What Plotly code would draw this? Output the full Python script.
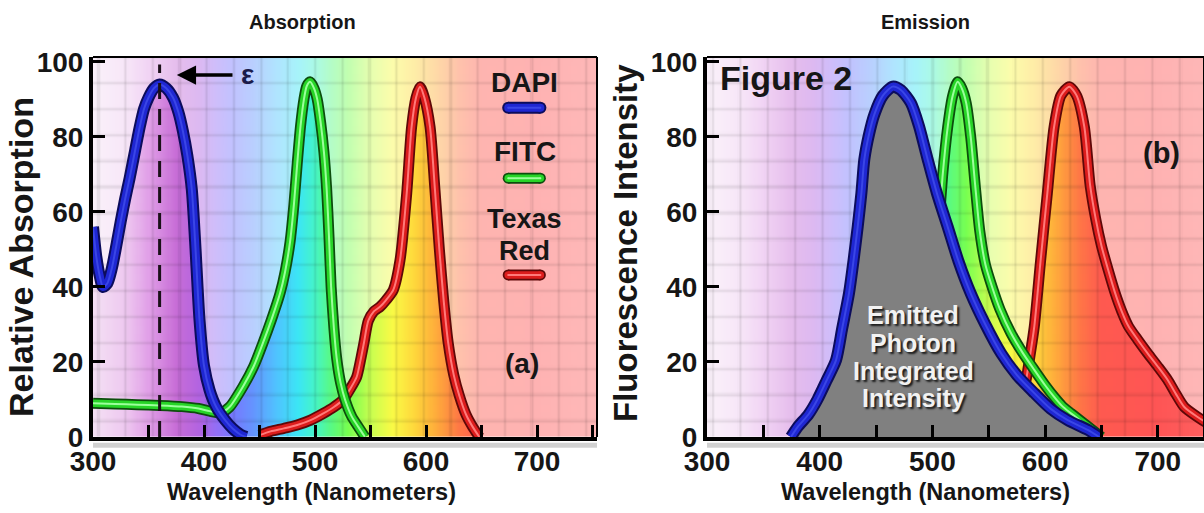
import numpy as np
import plotly.graph_objects as go

# ---------------- data ----------------
# Absorption spectra (relative absorption, %)
abs_dapi_nm = [300, 303, 306, 309, 313, 317, 321, 325, 329, 333, 338, 342, 346, 350, 355, 360, 366, 372, 377,
               381, 385, 389, 392, 396, 400, 405, 411, 419, 426, 433, 438]
abs_dapi = [56, 48, 43, 40, 41, 45, 51, 57.5, 63.5, 69, 76.5, 82.5, 87.5, 90.5, 93, 94, 93, 90.5, 86.5,
            81.5, 75, 66, 52, 31, 19, 12.5, 8, 4.5, 2.2, 0.6, 0]

abs_fitc_nm = [300, 320, 340, 360, 380, 395, 405, 415, 423, 435, 445, 453, 461, 468.5, 473, 477.5, 481, 484,
               487, 490, 492.5, 495.5, 499, 502, 505, 508, 510.5, 512.5, 514.5, 517, 519.5, 523, 527, 533, 539, 545]
abs_fitc = [9, 8.8, 8.6, 8.4, 8.1, 7.6, 6.9, 6.5, 8, 13.4, 19, 25, 31.5, 38.3, 44, 52, 62, 73,
            83, 90, 93.5, 94.7, 93, 90, 84, 76, 66, 54, 40, 29, 21, 14.5, 10, 5.5, 2.7, 0]

abs_texas_nm = [450, 460, 472, 484, 496, 507.5, 517, 525.5, 532, 537.5, 541, 544, 548, 553, 558.5, 564,
                570.5, 576.6, 582.6, 587, 591, 594.6, 598.5, 603.6, 608, 612, 616, 620, 625, 630, 636, 642, 648]
abs_texas = [0.5, 1.5, 2.3, 3.2, 4.5, 6.3, 8, 10, 13, 16, 20.5, 25, 31, 33.5, 34.7, 36.5,
             39.2, 47.2, 65, 82.7, 90.5, 93.4, 90.5, 82.7, 66, 50, 36, 25, 16.5, 11, 6, 2.7, 0]

# Emission spectra (fluorescence intensity, %)
em_dapi_nm = [374.5, 380.5, 390, 398, 406, 414.5, 420, 426, 430, 433.7, 437, 439.6, 444, 448.5, 456, 464.8,
              472, 481, 488, 495.8, 504, 513.6, 523, 534, 547, 561, 575, 590.4, 605, 620, 637.8, 648]
em_dapi = [0, 2.7, 6, 10, 15, 20.5, 29, 38.3, 47, 56, 65, 74, 81, 86, 91, 93.4,
           92.5, 89, 83, 74, 65, 56, 47, 38.3, 30, 22.3, 16.5, 11.7, 7.5, 4.5, 1.9, 0]

em_fitc_nm = [480, 490, 497, 503, 509, 513.6, 518, 522.4, 526, 530, 534, 538, 542, 547, 553, 560,
              569.7, 580, 590.4, 600, 608, 615, 623, 635, 650]
em_fitc = [0, 8, 22, 45, 69.4, 82.7, 91, 94.7, 93, 89, 80, 67, 55, 46, 40, 34,
           27.7, 22.5, 17.9, 13.8, 10.7, 8.3, 6.3, 3.5, 0]

em_texas_nm = [560, 570, 578, 583, 586, 590.4, 596, 602, 608, 614, 621.5, 628, 634.8, 640, 645, 650, 656,
               662, 668, 674, 682, 691, 700, 708.8, 716, 723.5, 735, 745, 755]
em_texas = [0, 3, 9, 15, 20.5, 29.4, 47, 65, 82.7, 91, 93.4, 91, 82.7, 67, 58, 51, 44.5,
            38.5, 33.5, 29.5, 26, 22.3, 18.8, 15.2, 11.5, 8, 5.4, 3.5, 2]

dye_names = ["DAPI", "FITC", "Texas Red"]
x_tickvals = [300, 350, 400, 450, 500, 550, 600, 650, 700, 750]
x_ticktext = ["300", "", "400", "", "500", "", "600", "", "700", ""]
y_tickvals = [0, 20, 40, 60, 80, 100]
y_ticktext = ["0", "20", "40", "60", "80", "100"]
epsilon_nm = 360  # DAPI absorption maximum marked with the dashed line

# ---------------- styling ----------------
FONT = "Liberation Sans, Arial, Helvetica, sans-serif"
TXT = "#161616"
X1_RANGE = [300, 754]
X2_RANGE = [300, 741]
Y_RANGE = [0, 101.3]

# visible-spectrum background colours (saturated)
spec_nm = [300, 330, 350, 375, 395, 410, 425, 445, 465, 485, 500, 515, 530, 550, 570, 590, 610, 630, 650, 700, 760]
spec_r = [245, 238, 225, 200, 180, 150, 120, 100, 80, 60, 70, 90, 120, 200, 250, 255, 255, 255, 255, 255, 255]
spec_g = [225, 200, 160, 110, 100, 110, 120, 150, 195, 230, 245, 250, 255, 255, 250, 215, 170, 120, 90, 85, 100]
spec_b = [245, 240, 232, 215, 225, 245, 255, 255, 255, 245, 200, 130, 80, 80, 70, 60, 60, 70, 80, 85, 100]

DYE_STYLE = {
    "DAPI": (["#0c0c5c", "#1f27d2", "#3a46e6"], [12, 8, 2]),
    "FITC": (["#0d4d0d", "#27d427", "#9cff9c"], [11, 7.5, 2]),
    "Texas Red": (["#5e0808", "#dc1c1c", "#ff7a7a"], [11, 7.5, 2]),
}


def spectrum(nm):
    return np.stack([np.interp(nm, spec_nm, spec_r),
                     np.interp(nm, spec_nm, spec_g),
                     np.interp(nm, spec_nm, spec_b)], axis=-1)


def grid_factor(xs, ys, px_per_nm, px_per_unit):
    gsx, gx0 = 24.4, 305.0
    gsy, gy0 = 6.93, 101.3
    dxp = np.abs(((xs - gx0 + gsx / 2) % gsx) - gsx / 2) * px_per_nm
    dyp = np.abs(((ys - gy0 + gsy / 2) % gsy) - gsy / 2) * px_per_unit
    fx = 1 - 0.085 * np.exp(-(dxp / 1.5) ** 2)
    fy = 1 - 0.085 * np.exp(-(dyp / 1.5) ** 2)
    return fy[:, None] * fx[None, :]


def curve_env(xs, nm_list, v_list):
    return np.interp(xs, nm_list, v_list, left=0, right=0)


DX, DY = 1.0, 0.3


def background(xr, curves, px_per_nm):
    xs = np.arange(xr[0], xr[1], DX) + DX / 2
    ys = np.arange(0, Y_RANGE[1], DY) + DY / 2
    env = np.zeros_like(xs)
    for nm_l, v_l in curves:
        env = np.maximum(env, curve_env(xs, nm_l, v_l))
    sat = spectrum(xs)
    pale = 255 * 0.55 + 0.45 * sat
    inside = ys[:, None] < env[None, :]
    img = np.where(inside[..., None], sat[None, :, :], pale[None, :, :])
    img = img * grid_factor(xs, ys, px_per_nm, 3.75)[..., None]
    z = np.clip(img, 0, 255).astype(np.uint8).tolist()
    return go.Image(z=z, x0=xs[0], dx=DX, y0=ys[0], dy=DY, zsmooth="fast", hoverinfo="skip")


def overlay(xr, nm_l, v_l, px_per_nm):
    xs = np.arange(xr[0], xr[1], DX) + DX / 2
    ys = np.arange(0, 97, DY) + DY / 2
    env = curve_env(xs, nm_l, v_l)
    sat = spectrum(xs)
    inside = ys[:, None] < env[None, :]
    rgb = np.broadcast_to(sat[None, :, :], (len(ys), len(xs), 3)) * grid_factor(xs, ys, px_per_nm, 3.75)[..., None]
    rgb = np.clip(rgb, 0, 255).round()
    alpha = inside.astype(float)[..., None]
    z = np.concatenate([rgb, alpha], axis=-1).tolist()
    return go.Image(z=z, x0=xs[0], dx=DX, y0=ys[0], dy=DY, colormodel="rgba", zsmooth="fast", hoverinfo="skip")


def curve_traces(x, y, name, xa, ya):
    cols, wids = DYE_STYLE[name]
    out = []
    for c, w in zip(cols, wids):
        out.append(go.Scatter(x=x, y=y, mode="lines", xaxis=xa, yaxis=ya,
                              line=dict(color=c, width=w, shape="spline", smoothing=0.7),
                              hoverinfo="skip", showlegend=False))
    return out


fig = go.Figure()

# ---------- (a) Absorption ----------
px1 = 504 / (X1_RANGE[1] - X1_RANGE[0])
bg1 = background(X1_RANGE, [(abs_dapi_nm, abs_dapi), (abs_fitc_nm, abs_fitc), (abs_texas_nm, abs_texas)], px1)
bg1.update(xaxis="x", yaxis="y")
fig.add_trace(bg1)
for t in curve_traces(abs_texas_nm, abs_texas, "Texas Red", "x", "y"):
    fig.add_trace(t)
for t in curve_traces(abs_fitc_nm, abs_fitc, "FITC", "x", "y"):
    fig.add_trace(t)
for t in curve_traces(abs_dapi_nm, abs_dapi, "DAPI", "x", "y"):
    fig.add_trace(t)
fig.add_trace(go.Scatter(x=[epsilon_nm, epsilon_nm], y=[0, 99.3], mode="lines", xaxis="x", yaxis="y",
                         line=dict(color="#1a1018", width=3, dash="16px,10px"), hoverinfo="skip", showlegend=False))

# legend swatches
leg_x = [674, 703]
leg_y = [87.8, 69.0, 43.2]
for name, ly in zip(dye_names, leg_y):
    cols, wids = DYE_STYLE[name]
    for c, w in zip(cols, wids):
        fig.add_trace(go.Scatter(x=leg_x, y=[ly, ly], mode="lines+markers", xaxis="x", yaxis="y",
                                 line=dict(color=c, width=w),
                                 marker=dict(color=c, size=w, line=dict(width=0)),
                                 hoverinfo="skip", showlegend=False))

# ---------- (b) Emission ----------
px2 = 497 / (X2_RANGE[1] - X2_RANGE[0])
bg2 = background(X2_RANGE, [(em_texas_nm, em_texas)], px2)
bg2.update(xaxis="x2", yaxis="y2")
fig.add_trace(bg2)
for t in curve_traces(em_texas_nm, em_texas, "Texas Red", "x2", "y2"):
    fig.add_trace(t)
ov = overlay([476, 656], em_fitc_nm, em_fitc, px2)
ov.update(xaxis="x2", yaxis="y2")
fig.add_trace(ov)
for t in curve_traces(em_fitc_nm, em_fitc, "FITC", "x2", "y2"):
    fig.add_trace(t)
fig.add_trace(go.Scatter(x=em_dapi_nm, y=em_dapi, mode="lines", xaxis="x2", yaxis="y2", fill="tozeroy",
                         fillcolor="#808080", line=dict(color="rgba(0,0,0,0)", width=0, shape="spline", smoothing=0.7),
                         hoverinfo="skip", showlegend=False))
for t in curve_traces(em_dapi_nm, em_dapi, "DAPI", "x2", "y2"):
    fig.add_trace(t)

# ---------- axes ----------
tick_font = dict(family=FONT, size=28, color=TXT, weight=700)


def xaxis(rng, domain, anchor):
    return dict(domain=domain, anchor=anchor, range=rng, autorange=False, tickmode="array",
                tickvals=x_tickvals, ticktext=x_ticktext, ticks="inside", ticklen=12, tickwidth=3,
                tickcolor="black", showline=True, linewidth=4, linecolor="black", showgrid=False,
                zeroline=False, tickfont=tick_font, fixedrange=True, automargin=False,
                ticklabelstandoff=-4)


def yaxis(domain, anchor):
    return dict(domain=domain, anchor=anchor, range=Y_RANGE, autorange=False, tickmode="array",
                tickvals=y_tickvals, ticktext=y_ticktext, ticks="inside", ticklen=12, tickwidth=3,
                tickcolor="black", showline=True, linewidth=4, linecolor="black", showgrid=False,
                zeroline=False, tickfont=tick_font, fixedrange=True, scaleanchor=False, automargin=False)


ydom = [1 - 437 / 513, 1 - 57 / 513]
fig.update_layout(
    width=1204, height=513, margin=dict(l=0, r=0, t=0, b=0, autoexpand=False),
    paper_bgcolor="white", plot_bgcolor="white", showlegend=False, hovermode=False,
    xaxis=xaxis(X1_RANGE, [93 / 1204, 597 / 1204], "y"),
    yaxis=yaxis(ydom, "x"),
    xaxis2=xaxis(X2_RANGE, [707 / 1204, 1.0], "y2"),
    yaxis2=yaxis(ydom, "x2"),
)

# borders and axis shadow
shapes = []
for xr, yr in (("x domain", "y domain"), ("x2 domain", "y2 domain")):
    shapes.append(dict(type="line", xref=xr, yref=yr, x0=0, x1=1, y0=1, y1=1, line=dict(color="black", width=2)))
    shapes.append(dict(type="line", xref=xr, yref=yr, x0=1, x1=1, y0=0, y1=1, line=dict(color="black", width=2)))
    shapes.append(dict(type="line", xref=xr, yref=yr, x0=0, x1=1, y0=-0.022, y1=-0.022,
                       line=dict(color="rgba(0,0,0,0.18)", width=5)))
fig.update_layout(shapes=shapes)

ann = []


def A(text, x, y, size, xref="paper", yref="paper", color=TXT, bold=True, **kw):
    d = dict(text=("<b>%s</b>" % text) if bold else text, x=x, y=y, xref=xref, yref=yref, showarrow=False,
             xanchor="center", yanchor="middle", font=dict(family=FONT, size=size, color=color))
    d.update(kw)
    ann.append(d)


A("Absorption", 302 / 1204, 1 - 22 / 513, 20)
A("Emission", 925 / 1204, 1 - 22 / 513, 20)
A("Wavelength (Nanometers)", 311 / 1204, 1 - 492 / 513, 23.5)
A("Wavelength (Nanometers)", 925 / 1204, 1 - 492 / 513, 23.5)
A("Relative Absorption", 21 / 1204, 1 - 257 / 513, 34, textangle=-90)
A("Fluorescence Intensity", 626 / 1204, 1 - 243 / 513, 33, textangle=-90)

A("DAPI", 689, 94.4, 28, "x", "y")
A("FITC", 689, 76.0, 28, "x", "y")
A("Texas", 689, 58.0, 27, "x", "y")
A("Red", 689, 49.6, 27, "x", "y")
A("(a)", 686.5, 19.7, 28, "x", "y")
A("ε", 439, 96.6, 28, "x", "y", color="#1b1b4a")
ann.append(dict(x=375.5, y=96.5, ax=427, ay=96.5, xref="x", yref="y", axref="x", ayref="y", text="",
                showarrow=True, arrowhead=2, arrowsize=1.1, arrowwidth=3.5, arrowcolor="black"))

A("Figure 2", 310, 95.7, 34, "x2", "y2", xanchor="left")
A("(b)", 703, 75.7, 29, "x2", "y2")
for line, ly in zip(["Emitted", "Photon", "Integrated", "Intensity"], [32.5, 25.0, 17.6, 10.3]):
    d = dict(text="<b>%s</b>" % line, x=483, y=ly, xref="x2", yref="y2", showarrow=False,
             xanchor="center", yanchor="middle",
             font=dict(family=FONT, size=25, color="#f2f2f2", shadow="2px 2px 2px #1a1a1a"))
    ann.append(d)

fig.update_layout(annotations=ann)
fig.write_html("out.html", config={"displayModeBar": False, "staticPlot": True},
               post_script="document.body.style.margin='0';")
